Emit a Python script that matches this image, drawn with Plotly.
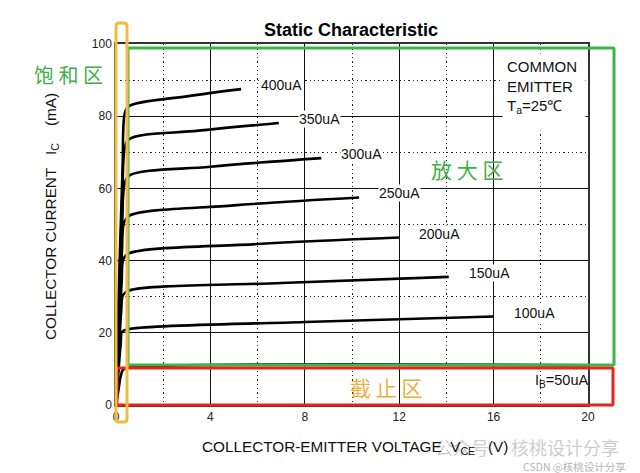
import plotly.graph_objects as go

# ---------------- data ----------------
ib_labels = ["50uA", "100uA", "150uA", "200uA", "250uA", "300uA", "350uA", "400uA"]

vce_50 = [0, 0.1, 0.2, 0.3, 0.5, 20]
ic_50 = [0, 4, 8, 9.8, 10.3, 11.0]
vce_100 = [0, 0.1, 0.2, 0.26, 0.5, 8, 16]
ic_100 = [0, 9, 17, 20.3, 21.0, 23.0, 24.5]
vce_150 = [0, 0.1, 0.22, 0.3, 0.55, 7, 14.1]
ic_150 = [0, 12, 26, 30.5, 31.7, 33.8, 35.5]
vce_200 = [0, 0.1, 0.24, 0.32, 0.55, 6, 12]
ic_200 = [0, 15, 34, 40.5, 42.0, 44.6, 46.4]
vce_250 = [0, 0.1, 0.25, 0.34, 0.55, 5, 10.3]
ic_250 = [0, 18, 42, 50.5, 52.4, 55.3, 57.5]
vce_300 = [0, 0.1, 0.26, 0.36, 0.55, 4, 8.7]
ic_300 = [0, 21, 50, 61, 63.5, 66.0, 68.4]
vce_350 = [0, 0.1, 0.27, 0.37, 0.55, 3.5, 6.9]
ic_350 = [0, 24, 58, 71, 73.6, 76.0, 78.1]
vce_400 = [0, 0.1, 0.28, 0.38, 0.55, 3, 5.3]
ic_400 = [0, 27, 66, 81, 82.8, 85.5, 87.5]

curves_v = [vce_50, vce_100, vce_150, vce_200, vce_250, vce_300, vce_350, vce_400]
curves_i = [ic_50, ic_100, ic_150, ic_200, ic_250, ic_300, ic_350, ic_400]

x_ticks = [0, 4, 8, 12, 16, 20]
y_ticks = [0, 20, 40, 60, 80, 100]

# ---------------- layout geometry helpers ----------------
W, H = 640, 473
L, R, T, B = 116, 52, 44, 68
PW, PH = W - L - R, H - T - B


def px(x):
    return (x - L) / PW


def py(y):
    return (H - B - y) / PH


def rect_path(x0, y0, x1, y1, r):
    rx, ry = r / PW, r / PH
    a, b, c, d = px(x0), py(y1), px(x1), py(y0)  # a<c, b<d (paper)
    return (f"M{a+rx},{b} L{c-rx},{b} Q{c},{b} {c},{b+ry} L{c},{d-ry} Q{c},{d} {c-rx},{d} "
            f"L{a+rx},{d} Q{a},{d} {a},{d-ry} L{a},{b+ry} Q{a},{b} {a+rx},{b} Z")


def note(xp, yp, text, font, xa="center", ya="middle", **kw):
    fig.add_annotation(x=px(xp), y=py(yp), xref="paper", yref="paper", showarrow=False,
                       xanchor=xa, yanchor=ya, text=text, font=font, **kw)


fig = go.Figure()

for v, i, lab in zip(curves_v, curves_i, ib_labels):
    fig.add_trace(go.Scatter(x=v, y=i, mode="lines", line=dict(color="black", width=2.6),
                             line_shape="spline", hoverinfo="skip", showlegend=False, name=lab))
    if lab != "50uA":
        fig.add_annotation(x=v[-1], y=i[-1], xref="x", yref="y", text=lab, showarrow=False,
                           xanchor="left", yanchor="middle", xshift=19, yshift=4,
                           bgcolor="white", borderpad=0,
                           font=dict(family="Liberation Sans, Arial", size=14, color="#111"))

axis_font = dict(family="Liberation Sans, Arial", size=12, color="#222")
fig.update_xaxes(range=[0, 20], tickvals=x_ticks, ticktext=[str(t) for t in x_ticks],
                 showgrid=True, gridcolor="#111", gridwidth=1,
                 minor=dict(dtick=2, tick0=0, showgrid=True, gridcolor="#222",
                            griddash="1.3px,3px", gridwidth=1.3),
                 showline=True, mirror=True, linecolor="#333", linewidth=1.5,
                 zeroline=False, ticks="", tickfont=axis_font, fixedrange=True)
fig.update_yaxes(range=[0, 100], tickvals=y_ticks, ticktext=[str(t) for t in y_ticks],
                 showgrid=True, gridcolor="#111", gridwidth=1,
                 minor=dict(dtick=10, tick0=0, showgrid=True, gridcolor="#222",
                            griddash="1.3px,3px", gridwidth=1.3),
                 showline=True, mirror=True, linecolor="#333", linewidth=1.5,
                 zeroline=False, ticks="", tickfont=axis_font, fixedrange=True)

txt_font = dict(family="Liberation Sans, Arial", size=15.3, color="#111")

# title
note(351, 30, "<b>Static Characteristic</b>",
     dict(family="Liberation Sans, Arial", size=18, color="black"))
# axis titles
note(51, 217, "COLLECTOR CURRENT\u00a0\u00a0\u00a0I<sub>C</sub>\u00a0\u00a0\u00a0\u00a0(mA)", txt_font,
     textangle=-90)

# watermark (behind the x title)
wm = dict(family="Noto Sans CJK SC", size=18, color="rgba(160,160,160,0.55)")
note(433, 447, "公众号", wm, xa="left")
note(509, 447, "核桃设计分享", wm, xa="left")
note(628, 466, "CSDN @核桃设计分享",
     dict(family="Noto Sans CJK SC", size=10.5, color="rgba(160,160,160,0.8)"), xa="right")

note(355, 447, "COLLECTOR-EMITTER VOLTAGE\u00a0\u00a0V<sub>CE</sub>\u00a0\u00a0\u00a0(V)", txt_font)

# common emitter note
note(502, 53, "COMMON<br>EMITTER<br>T<sub>a</sub>=25℃",
     dict(family="Liberation Sans, Arial", size=15, color="#111"), xa="left", ya="top",
     align="left", valign="top", width=74, height=68, bgcolor="white", borderpad=4)
note(533, 381, "I<sub>B</sub>=50uA", dict(family="Liberation Sans, Arial", size=14.5, color="#111"),
     xa="left")

# region boxes
green = "#3DB54A"
red = "#E8231B"
yellow = "#F0BE3C"
fig.add_shape(type="path", path=rect_path(128, 48, 614, 365, 1), xref="paper", yref="paper",
              line=dict(color=green, width=3), layer="above")
fig.add_shape(type="path", path=rect_path(117, 368, 613, 405, 1), xref="paper", yref="paper",
              line=dict(color=red, width=3), layer="above")
fig.add_shape(type="path", path=rect_path(116, 23, 127, 422, 3), xref="paper", yref="paper",
              line=dict(color=yellow, width=3), layer="above")

cjk = "Noto Sans CJK SC"
note(68, 75, "饱 和 区", dict(family=cjk, size=20, color="#3FAE49"))
note(467, 169, "放 大 区", dict(family=cjk, size=21, color="#3FAE49"))
note(386, 387, "截 止 区", dict(family=cjk, size=21, color="#E9B23E"))

fig.update_layout(width=W, height=H, margin=dict(l=L, r=R, t=T, b=B),
                  plot_bgcolor="white", paper_bgcolor="white", showlegend=False)

fig.write_html("out.html", config={"displayModeBar": False},
               post_script="document.body.style.margin='0px';")
